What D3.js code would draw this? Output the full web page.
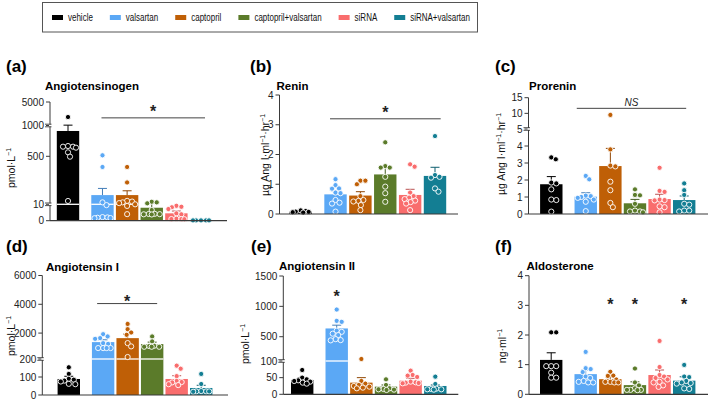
<!DOCTYPE html>
<html><head><meta charset="utf-8">
<script src="https://cdn.jsdelivr.net/npm/d3@7"></script>
<style>
body{margin:0;background:#fff}
svg{display:block}
text{font-family:"Liberation Sans",Arial,Helvetica,sans-serif}
</style>
</head><body>
<svg id="chart" width="709" height="400"></svg>
<script>
// ---------------- DATA ----------------
const groups = ["vehicle","valsartan","captopril","captopril+valsartan","siRNA","siRNA+valsartan"];
const groupColors = ["#000000","#5ba8f5","#bf5f06","#5b7b2a","#f96d6d","#137e93"];
const groupPositions = [0, 1.4, 2.4, 3.4, 4.4, 5.4];

// (a) Angiotensinogen, pmol/L
const angiotensinogenTicks = [0, 10, 500, 1000, 5000];
const angiotensinogenMean = [911, 104, 104, 7.9, 4.5, 0.2];
const angiotensinogenSem  = [150, 68, 44, 12, 1.4, 0.05];
const angiotensinogenPoints = [
  [2445, 667, 656, 656, 640, 565, 496, 44],
  [516, 391, 30, 9.5, 2.2, 2, 1.8, 1.6, 1.5],
  [391, 233, 45, 38, 30, 22, 10, 9, 4],
  [36, 30, 20, 6.5, 4.2, 4.1, 4.0, 3.9, 3.8],
  [9.1, 8.5, 8.2, 7.1, 4.5, 3.9, 1.2, 1.0, 1.0, 0.9],
  [0.2, 0.2, 0.2, 0.2, 0.2]
];

// (b) Renin
const reninTicks = [0, 1, 2, 3, 4];
const reninMean = [0.08, 0.66, 0.62, 1.33, 0.64, 1.28];
const reninSem  = [0.015, 0.12, 0.13, 0.26, 0.19, 0.29];
const reninPoints = [
  [0.12, 0.1, 0.08, 0.07, 0.06, 0.05],
  [1.17, 0.97, 0.86, 0.85, 0.72, 0.70, 0.47, 0.38, 0.35, 0.08],
  [1.12, 1.12, 1.0, 0.6, 0.47, 0.44, 0.42, 0.3, 0.13],
  [2.41, 1.61, 1.56, 1.56, 1.25, 0.92, 0.70, 0.41],
  [1.67, 1.59, 0.72, 0.6, 0.55, 0.5, 0.45, 0.4, 0.35, 0.13],
  [2.62, 1.31, 1.25, 1.22, 0.86, 0.75]
];

// (c) Prorenin
const proreninTicks = [0, 1, 2, 3, 4, 5, 10, 15];
const proreninMean = [1.75, 1.02, 2.82, 0.63, 0.88, 0.82];
const proreninSem  = [0.45, 0.23, 1.04, 0.23, 0.28, 0.24];
const proreninPoints = [
  [3.33, 3.22, 1.85, 1.8, 1.45, 0.85, 0.82, 0.14],
  [2.24, 2.04, 1.08, 1.05, 1.0, 0.95, 0.85, 0.72, 0.17],
  [9.5, 3.8, 2.85, 2.8, 1.9, 1.4, 0.65, 0.4],
  [1.45, 1.12, 1.1, 0.6, 0.2, 0.15, 0.15, 0.1],
  [2.72, 1.36, 1.3, 0.85, 0.82, 0.8, 0.45, 0.4, 0.1],
  [1.8, 1.4, 1.12, 0.6, 0.55, 0.2, 0.2, 0.15]
];

// (d) Angiotensin I, pmol/L
const angiotensin1Ticks = [0, 100, 200, 2000, 4000, 6000];
const angiotensin1Mean = [89, 1373, 1649, 1235, 89, 39];
const angiotensin1Sem  = [15, 160, 276, 138, 18, 15];
const angiotensin1Points = [
  [154, 117, 90, 85, 80, 75, 62, 60],
  [1925, 1766, 1650, 1600, 1300, 1250, 960, 960, 960, 960],
  [2636, 2270, 2042, 1880, 1304, 1076, 338],
  [1766, 1421, 1120, 1100, 1050, 1050, 1050],
  [163, 146, 105, 78, 72, 70, 60, 55],
  [117, 61, 22, 20, 20, 20, 18]
];

// (e) Angiotensin II, pmol/L
const angiotensin2Ticks = [0, 50, 100, 500, 1000, 1500];
const angiotensin2Mean = [43, 636, 35, 23, 41, 25];
const angiotensin2Sem  = [7, 54, 15, 5, 7, 3];
const angiotensin2Points = [
  [73, 50, 45, 42, 40, 38, 35, 32],
  [948, 761, 745, 600, 580, 550, 526, 460, 444, 440],
  [133, 40, 32, 28, 25, 23, 20, 18],
  [45, 28, 18, 16, 15, 14, 13],
  [71, 58, 56, 52, 38, 36, 35, 34, 33],
  [53, 31, 17, 16, 15, 15, 14]
];

// (f) Aldosterone, ng/ml
const aldosteroneTicks = [0, 1, 2, 3, 4];
const aldosteroneMean = [1.16, 0.68, 0.51, 0.31, 0.65, 0.46];
const aldosteroneSem  = [0.24, 0.14, 0.08, 0.11, 0.17, 0.13];
const aldosteronePoints = [
  [2.09, 2.09, 0.95, 0.95, 0.95, 0.73, 0.56, 0.56],
  [1.43, 0.88, 0.85, 0.75, 0.6, 0.55, 0.45, 0.42, 0.4, 0.4],
  [0.76, 0.63, 0.62, 0.5, 0.42, 0.42, 0.4, 0.4],
  [0.87, 0.4, 0.3, 0.2, 0.15, 0.15, 0.15, 0.14],
  [1.8, 0.92, 0.65, 0.6, 0.55, 0.5, 0.42, 0.4, 0.3, 0.25],
  [0.99, 0.6, 0.58, 0.45, 0.4, 0.38, 0.36, 0.2, 0.18]
];

// ---------------- LAYOUT ----------------
const panels = [
  {tag:"(a)", title:"Angiotensinogen", ylab:["pmol·L","−1"],
   ticks:angiotensinogenTicks, mean:angiotensinogenMean, sem:angiotensinogenSem, pts:angiotensinogenPoints,
   dom:[0,10,500,1000,5000], rng:[220.7,204.3,156.3,125.5,102], breaks:[10,1000],
   axisX:50, c0:68, c5:201, endX:227, tagX:6, tagY:72, titleX:45, titleY:90, ylabX:11, ylabY:168,
   sig:{type:"bracket", from:1, to:5, y:2300, padL:1, padR:4, label:"*", gap:10}},
  {tag:"(b)", title:"Renin", ylab:["µg Ang I·ml","−1","·hr","−1"],
   ticks:reninTicks, mean:reninMean, sem:reninSem, pts:reninPoints,
   dom:[0,4], rng:[214,95], breaks:[],
   axisX:279.5, c0:300.7, c5:435, endX:458, tagX:250, tagY:72, titleX:276.5, titleY:90, ylabX:265, ylabY:155,
   sig:{type:"bracket", from:1, to:5, y:3.2, padL:5.5, padR:5.7, label:"*", gap:10}},
  {tag:"(c)", title:"Prorenin", ylab:["µg Ang I·ml","−1","·hr","−1"],
   ticks:proreninTicks, mean:proreninMean, sem:proreninSem, pts:proreninPoints,
   dom:[0,5,15], rng:[214,129,97.7], breaks:[5],
   axisX:528.5, c0:551.3, c5:684.2, endX:708, tagX:495, tagY:72, titleX:529, titleY:90, ylabX:501, ylabY:154,
   sig:{type:"bracket", from:1, to:5, y:11.6, padL:9, padR:2, label:"NS", gap:6}},
  {tag:"(d)", title:"Angiotensin I", ylab:["pmol·L","−1"],
   ticks:angiotensin1Ticks, mean:angiotensin1Mean, sem:angiotensin1Sem, pts:angiotensin1Points,
   dom:[0,200,6000], rng:[395,359,275.5], breaks:[200],
   axisX:42.3, c0:68.8, c5:201.2, endX:228, tagX:6, tagY:252, titleX:46, titleY:271, ylabX:11, ylabY:336,
   sig:{type:"bracket", from:1, to:3, y:4050, padL:6, padR:5, label:"*", gap:6}},
  {tag:"(e)", title:"Angiotensin II", ylab:["pmol·L","−1"],
   ticks:angiotensin2Ticks, mean:angiotensin2Mean, sem:angiotensin2Sem, pts:angiotensin2Points,
   dom:[0,100,1500], rng:[394.3,361,276], breaks:[100],
   axisX:283.3, c0:302.2, c5:435.3, endX:458.3, tagX:251, tagY:252, titleX:279, titleY:270, ylabX:245, ylabY:344,
   sig:{type:"stars", groups:[1], y:1227, label:"*"}},
  {tag:"(f)", title:"Aldosterone", ylab:["ng·ml","−1"],
   ticks:aldosteroneTicks, mean:aldosteroneMean, sem:aldosteroneSem, pts:aldosteronePoints,
   dom:[0,4], rng:[394.3,275.7], breaks:[],
   axisX:529, c0:551.2, c5:684.2, endX:708, tagX:495, tagY:252, titleX:526.5, titleY:270, ylabX:502, ylabY:346,
   sig:{type:"stars", groups:[2,3,5], y:3.16, label:"*"}}
];

const svg = d3.select("#chart");
const AXIS = "#3a3a3a";
const BW = 22.4, R = 2.6;

// ---------------- LEGEND ----------------
const leg = svg.append("g");
leg.append("rect").attr("x",42.5).attr("y",2.5).attr("width",435).attr("height",29.5)
  .attr("fill","none").attr("stroke","#555").attr("stroke-width",1);
let lx = 52;
groups.forEach((g,i)=>{
  leg.append("rect").attr("x",lx).attr("y",15).attr("width",11).attr("height",5).attr("fill",groupColors[i]);
  const t = leg.append("text").attr("x",lx+16).attr("y",20.8)
    .attr("font-size",10.5).attr("fill","#111").text(g);
  const w = t.node().getComputedTextLength() * 0.76;
  t.attr("textLength", w).attr("lengthAdjust","spacingAndGlyphs");
  lx += 16 + w + 17;
});

// ---------------- helpers ----------------
function swarm(vals, y, cx, maxOff){
  const D = 4.7;
  const order = vals.map((v,i)=>i).sort((a,b)=>vals[b]-vals[a]);
  const placed = [];
  const out = new Array(vals.length);
  const cands = [];
  for(let o=0;o<=maxOff+1e-9;o+=0.5){ cands.push(o); if(o>0) cands.push(-o); }
  for(const i of order){
    const py = y(vals[i]);
    let chosen = null, bestOff = 0, bestD = -1;
    for(const o of cands){
      let md = Infinity;
      for(const p of placed){ const d = Math.hypot(p.x-(cx+o), p.y-py); if(d<md) md=d; }
      if(md >= D){ chosen = o; break; }
      if(md > bestD){ bestD = md; bestOff = o; }
    }
    if(chosen===null) chosen = bestOff;
    const pt = {x:cx+chosen, y:py};
    placed.push(pt); out[i] = pt;
  }
  return out;
}

function yLabel(g, p){
  const t = g.append("text")
    .attr("transform",`translate(${p.ylabX},${p.ylabY}) rotate(-90)`)
    .attr("text-anchor","middle").attr("dominant-baseline","central")
    .attr("font-size",10.5).attr("fill","#111");
  p.ylab.forEach((s,k)=>{
    if(k%2===0) t.append("tspan").attr("dy", k===0?0:3.5).text(s);
    else t.append("tspan").attr("font-size",7).attr("dy",-3.5).text(s);
  });
}

// ---------------- PANELS ----------------
panels.forEach(p=>{
  const g = svg.append("g");
  const y = d3.scaleLinear().domain(p.dom).range(p.rng);
  const x = d3.scaleLinear().domain([groupPositions[0], groupPositions[5]]).range([p.c0, p.c5]);
  const y0 = y(0), yTop = y(p.ticks[p.ticks.length-1]);

  g.append("text").attr("x",p.tagX).attr("y",p.tagY).attr("font-size",17).attr("font-weight","bold").attr("fill","#000").text(p.tag);
  g.append("text").attr("x",p.titleX).attr("y",p.titleY).attr("font-size",11.5).attr("font-weight","bold").attr("fill","#000").text(p.title);
  yLabel(g, p);

  // bars
  groups.forEach((gr,i)=>{
    const cx = x(groupPositions[i]);
    g.append("rect").attr("x",cx-BW/2).attr("y",y(p.mean[i])).attr("width",BW)
      .attr("height",y0-y(p.mean[i])).attr("fill",groupColors[i]);
    p.breaks.forEach(b=>{
      if(p.mean[i] > b){
        g.append("line").attr("x1",cx-BW/2).attr("x2",cx+BW/2).attr("y1",y(b)).attr("y2",y(b))
          .attr("stroke","#fff").attr("stroke-width",1.3);
      }
    });
  });
  // error bars
  groups.forEach((gr,i)=>{
    const cx = x(groupPositions[i]);
    const c = i===0 ? "#000" : d3.color(groupColors[i]).darker(0.8).formatHex();
    const ym = y(p.mean[i]), ye = y(p.mean[i]+p.sem[i]);
    g.append("line").attr("x1",cx).attr("x2",cx).attr("y1",ym).attr("y2",ye).attr("stroke",c).attr("stroke-width",1);
    g.append("line").attr("x1",cx-4.5).attr("x2",cx+4.5).attr("y1",ye).attr("y2",ye).attr("stroke",c).attr("stroke-width",1);
  });
  // points
  groups.forEach((gr,i)=>{
    const cx = x(groupPositions[i]);
    const pos = swarm(p.pts[i], y, cx, BW/2 - R - 0.2);
    g.selectAll(null).data(pos).enter().append("circle")
      .attr("cx",d=>d.x).attr("cy",d=>d.y).attr("r",R)
      .attr("fill",groupColors[i]).attr("stroke","#fff").attr("stroke-width",0.9);
  });

  // axes
  g.append("line").attr("x1",p.axisX).attr("x2",p.axisX).attr("y1",y0).attr("y2",yTop).attr("stroke",AXIS).attr("stroke-width",1);
  g.append("line").attr("x1",p.axisX).attr("x2",p.endX).attr("y1",y0).attr("y2",y0).attr("stroke",AXIS).attr("stroke-width",1.2);
  p.ticks.forEach(v=>{
    g.append("line").attr("x1",p.axisX-4).attr("x2",p.axisX).attr("y1",y(v)).attr("y2",y(v)).attr("stroke",AXIS);
    g.append("text").attr("x",p.axisX-6).attr("y",y(v)).attr("dy","0.35em").attr("text-anchor","end")
      .attr("font-size",10).attr("fill","#222").text(v);
  });
  p.breaks.forEach(b=>{
    const yb = y(b);
    g.append("rect").attr("x",p.axisX-1).attr("y",yb-1).attr("width",2).attr("height",2).attr("fill","#fff");
    [yb-1.3, yb+1.3].forEach(yy=>{
      g.append("line").attr("x1",p.axisX-5).attr("x2",p.axisX+1.5).attr("y1",yy).attr("y2",yy).attr("stroke",AXIS).attr("stroke-width",0.9);
    });
  });

  // significance
  const s = p.sig;
  if(s.type==="bracket"){
    const x1 = x(groupPositions[s.from]) - s.padL, x2 = x(groupPositions[s.to]) + s.padR;
    const yl = y(s.y);
    g.append("line").attr("x1",x1).attr("x2",x2).attr("y1",yl).attr("y2",yl).attr("stroke","#444").attr("stroke-width",1);
    if(s.label==="NS"){
      g.append("text").attr("x",(x1+x2)/2).attr("y",yl-s.gap).attr("dy","0.35em").attr("text-anchor","middle")
        .attr("font-size",10).attr("font-style","italic").attr("fill","#222").text("NS");
    } else {
      g.append("text").attr("x",(x1+x2)/2).attr("y",yl-s.gap+0.58*16).attr("text-anchor","middle")
        .attr("font-size",16).attr("font-weight","bold").attr("fill","#222").text("*");
    }
  } else {
    s.groups.forEach(i=>{
      g.append("text").attr("x",x(groupPositions[i])).attr("y",y(s.y)+0.58*16).attr("text-anchor","middle")
        .attr("font-size",16).attr("font-weight","bold").attr("fill","#222").text("*");
    });
  }
});
</script>
</body></html>
